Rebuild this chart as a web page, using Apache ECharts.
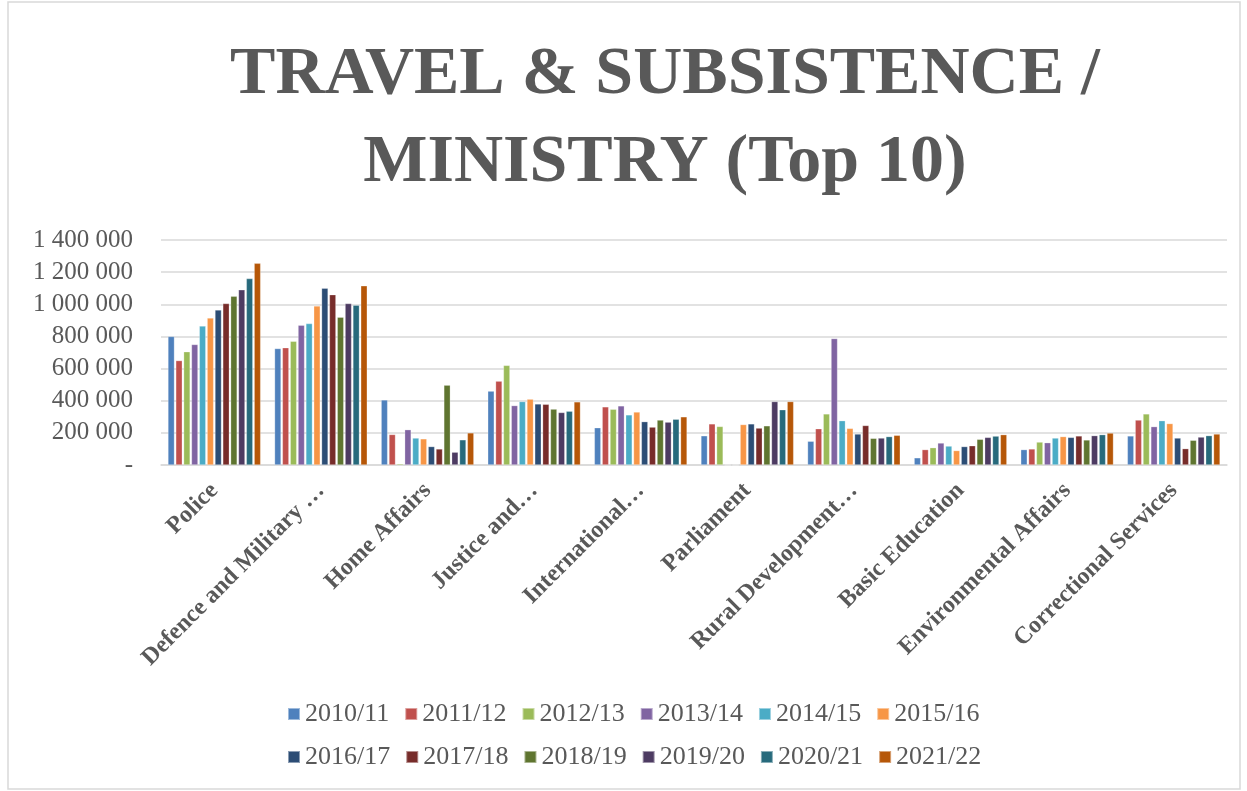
<!DOCTYPE html>
<html>
<head>
<meta charset="utf-8">
<script src="https://cdn.jsdelivr.net/npm/echarts@6/dist/echarts.min.js"></script>
<style>
html,body{margin:0;padding:0;background:#fff;}
#c{width:1247px;height:791px;}
</style>
</head>
<body>
<div id="c"></div>
<script>
const categories = ["Police", "Defence and Military …", "Home Affairs", "Justice and…", "International…", "Parliament", "Rural Development…", "Basic Education", "Environmental Affairs", "Correctional Services"];
const years = ["2010/11","2011/12","2012/13","2013/14","2014/15","2015/16","2016/17","2017/18","2018/19","2019/20","2020/21","2021/22"];
const yTicks = [0, 200000, 400000, 600000, 800000, 1000000, 1200000, 1400000];

const v2010_11 = [800000, 725000, 405000, 460000, 232000, 182000, 148000, 45000, 96000, 181000];
const v2011_12 = [650000, 730000, 190000, 522000, 362000, 256000, 226000, 96000, 100000, 280000];
const v2012_13 = [705000, 770000, 8000, 620000, 347000, 240000, 318000, 108000, 143000, 318000];
const v2013_14 = [750000, 870000, 220000, 370000, 368000, 0, 787000, 137000, 139000, 239000];
const v2014_15 = [865000, 880000, 168000, 395000, 312000, 0, 276000, 118000, 168000, 276000];
const v2015_16 = [915000, 990000, 163000, 410000, 330000, 252000, 228000, 90000, 177000, 258000];
const v2016_17 = [965000, 1100000, 115000, 380000, 270000, 256000, 193000, 115000, 172000, 168000];
const v2017_18 = [1005000, 1060000, 100000, 378000, 236000, 230000, 246000, 120000, 181000, 102000];
const v2018_19 = [1050000, 920000, 497000, 348000, 280000, 244000, 166000, 160000, 156000, 154000];
const v2019_20 = [1090000, 1005000, 80000, 327000, 267000, 395000, 168000, 172000, 183000, 174000];
const v2020_21 = [1160000, 995000, 157000, 335000, 285000, 344000, 177000, 180000, 189000, 183000];
const v2021_22 = [1255000, 1115000, 200000, 393000, 300000, 395000, 185000, 189000, 199000, 193000];

const seriesValues = [v2010_11, v2011_12, v2012_13, v2013_14, v2014_15, v2015_16, v2016_17, v2017_18, v2018_19, v2019_20, v2020_21, v2021_22];
const colors = ['#4F81BD','#C0504D','#9BBB59','#8064A2','#4BACC6','#F79646','#2C4D75','#772C2A','#5F7530','#4D3B62','#276A7C','#B65708'];

const txt = '#595959';
const serif = '"Liberation Serif", "DejaVu Serif", serif';

function fmt(v){
  if (v === 0) return '-';
  return String(v).replace(/\B(?=(\d{3})+(?!\d))/g, ' ');
}

const chart = echarts.init(document.getElementById('c'), null, {renderer:'canvas'});
const legendCommon = {
  left: 287, padding: 0, itemWidth: 12, itemHeight: 12, itemGap: 15, icon: 'rect',
  textStyle: {color: txt, fontSize: 26, fontFamily: serif},
  selectedMode: false
};
chart.setOption({
  animation: false,
  color: colors,
  graphic: [{
    type: 'rect', shape: {x: 8, y: 2, width: 1232, height: 787},
    style: {fill: 'none', stroke: '#d9d9d9', lineWidth: 1.5}, silent: true, z: -1
  }],
  title: {
    text: 'TRAVEL & SUBSISTENCE /\nMINISTRY (Top 10)',
    left: 665, top: 31, padding: 0, textAlign: 'center',
    textStyle: {color: txt, fontSize: 68, lineHeight: 88, fontWeight: 'bold', fontFamily: serif}
  },
  legend: [
    Object.assign({top: 701, data: years.slice(0, 6)}, legendCommon),
    Object.assign({top: 744, data: years.slice(6)}, legendCommon)
  ],
  grid: {left: 161, right: 20, top: 240, bottom: 326, containLabel: false},
  xAxis: {
    type: 'category', data: categories,
    axisLine: {show: true, lineStyle: {color: '#d9d9d9', width: 1.5}},
    axisTick: {show: false},
    axisLabel: {interval: 0, rotate: 45, margin: 22, color: txt, fontSize: 24, fontWeight: 'bold', fontFamily: serif}
  },
  yAxis: {
    type: 'value', min: yTicks[0], max: yTicks[yTicks.length - 1], interval: yTicks[1] - yTicks[0],
    axisLine: {show: false}, axisTick: {show: false},
    splitLine: {lineStyle: {color: '#d9d9d9', width: 1.5}},
    axisLabel: {margin: 28, color: txt, fontSize: 25, fontFamily: serif, formatter: fmt}
  },
  series: years.map((y, i) => ({
    name: y, type: 'bar', data: seriesValues[i],
    barGap: '20%', barCategoryGap: '13%',
    itemStyle: {borderColor: 'rgba(255,255,255,0.45)', borderWidth: 0.6}
  }))
});
</script>
</body>
</html>
